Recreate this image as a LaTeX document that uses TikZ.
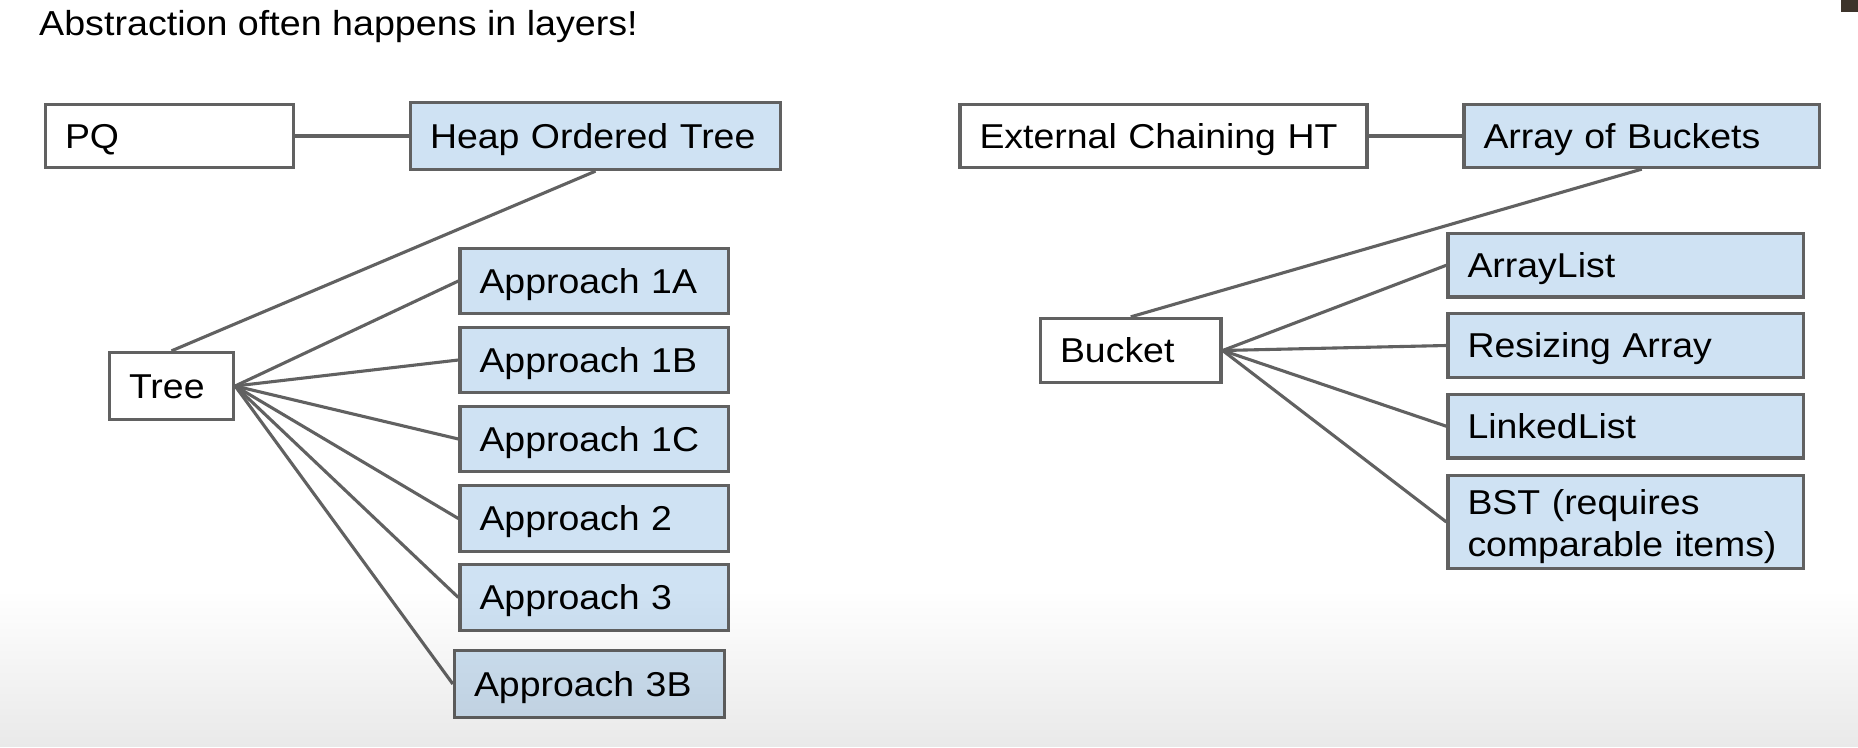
\documentclass[tikz,border=0pt]{standalone}
\usepackage{fontspec}
\setmainfont{Liberation Sans}[FakeStretch=1.085]
\usetikzlibrary{fadings}
\definecolor{boxblue}{HTML}{CFE2F3}
\definecolor{edgegray}{HTML}{616161}
\definecolor{cornerbrown}{HTML}{3D342B}
\tikzset{
  base/.style={draw=edgegray, line width=3.3pt, inner xsep=19.5pt, inner ysep=0pt,
    align=left, font=\fontsize{34.5pt}{42pt}\selectfont, text=black},
  one/.style={base, text height=31pt, text depth=6.3pt},
  wbox/.style={one, fill=white},
  bbox/.style={one, fill=boxblue},
  conn/.style={draw=edgegray, line width=3.1pt},
}
\begin{document}
\begin{tikzpicture}[x=1pt,y=-1pt]
\fill[white] (0,0) rectangle (1858,747);
\fill[cornerbrown] (1841,0) rectangle (1858,12);

\node[anchor=base west, inner sep=0pt, font=\fontsize{34.7pt}{42pt}\selectfont] (title) at (39,35) {Abstraction often happens in layers!};

% left tree
\node[wbox, minimum width=248pt, minimum height=63pt, text width=209pt] (pq) at (169.5,136) {PQ};
\node[bbox, minimum width=370pt, minimum height=67pt, text width=331pt] (heap) at (595.5,136) {Heap Ordered Tree};
\node[wbox, minimum width=124pt, minimum height=67pt, text width=85pt] (tree) at (171.5,386) {Tree};
\node[bbox, minimum width=268.5pt, minimum height=65.5pt, text width=229.5pt] (a1a) at (594.25,281) {Approach 1A};
\node[bbox, minimum width=268.5pt, minimum height=65.5pt, text width=229.5pt] (a1b) at (594.25,360) {Approach 1B};
\node[bbox, minimum width=268.5pt, minimum height=65.5pt, text width=229.5pt] (a1c) at (594.25,439) {Approach 1C};
\node[bbox, minimum width=268.5pt, minimum height=65.5pt, text width=229.5pt] (a2) at (594.25,518.5) {Approach 2};
\node[bbox, minimum width=268.5pt, minimum height=65.5pt, text width=229.5pt] (a3) at (594.25,597.5) {Approach 3};
\node[bbox, minimum width=270pt, minimum height=67pt, text width=231pt] (a3b) at (589.5,684) {Approach 3B};

% right tree
\node[wbox, minimum width=407pt, minimum height=63pt, text width=368pt] (ext) at (1163.5,136) {External Chaining HT};
\node[bbox, minimum width=355.5pt, minimum height=63pt, text width=316.5pt] (aob) at (1641.75,136) {Array of Buckets};
\node[wbox, minimum width=180.5pt, minimum height=64pt, text width=141.5pt] (bucket) at (1130.75,350.5) {Bucket};
\node[bbox, minimum width=355.5pt, minimum height=63.5pt, text width=316.5pt] (al) at (1625.75,265.25) {ArrayList};
\node[bbox, minimum width=355.5pt, minimum height=63.5pt, text width=316.5pt] (ra) at (1625.75,345.5) {Resizing Array};
\node[bbox, minimum width=355.5pt, minimum height=63.5pt, text width=316.5pt] (ll) at (1625.75,426.25) {LinkedList};
\node[base, fill=boxblue, minimum width=355.5pt, minimum height=93pt, text width=316.5pt] (bst) at (1625.75,522) {\rule{0pt}{34pt}BST (requires\\comparable items)};

% connectors
\draw[conn] (pq.east) -- (heap.west);
\draw[conn] (heap.south) -- (tree.north);
\foreach \t in {a1a,a1b,a1c,a2,a3,a3b} {\draw[conn] (tree.east) -- (\t.west);}
\draw[conn] (ext.east) -- (aob.west);
\draw[conn] (aob.south) -- (bucket.north);
\foreach \t in {al,ra,ll,bst} {\draw[conn] (bucket.east) -- (\t.west);}

% bottom shading overlay
\fill[black, opacity=0.085, path fading=north] (0,590) rectangle (1858,747);
\end{tikzpicture}
\end{document}
